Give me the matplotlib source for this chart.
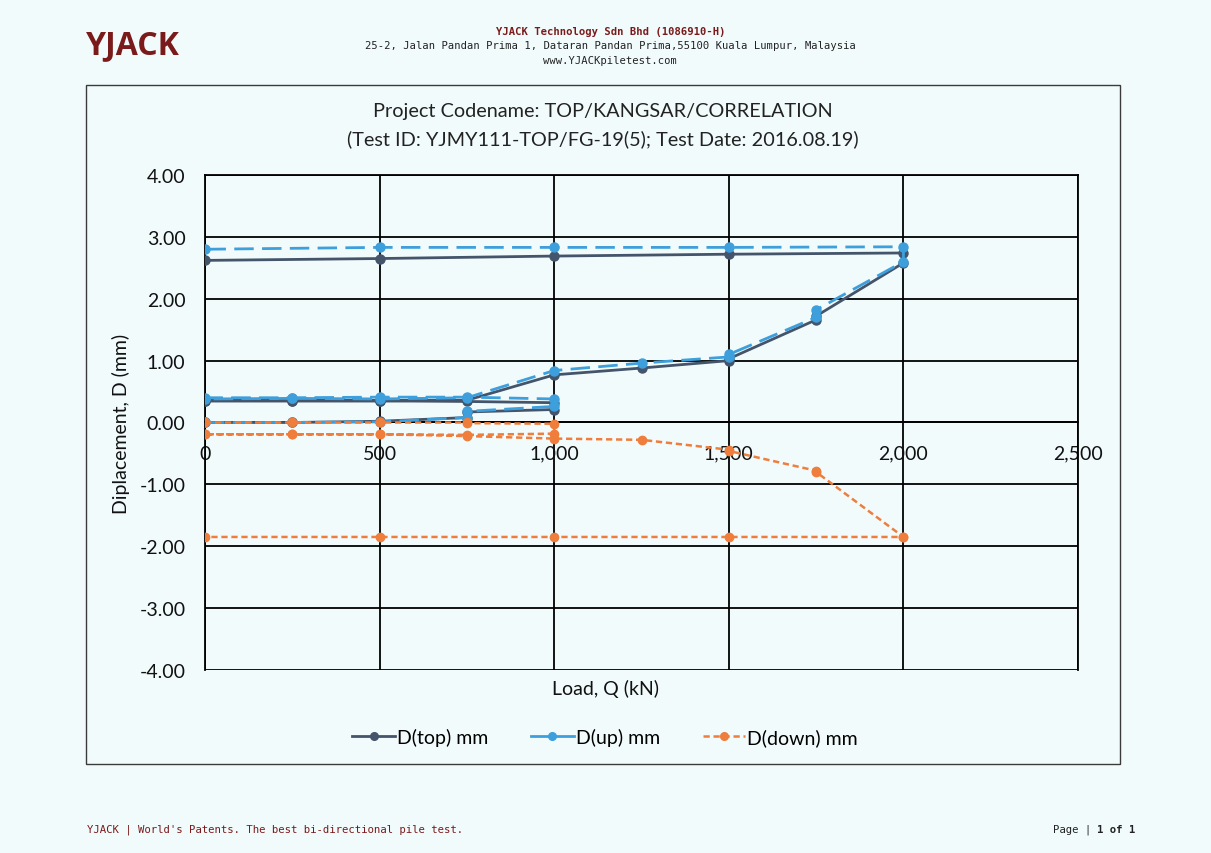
import matplotlib.pyplot as plt
from matplotlib.lines import Line2D
from matplotlib.patches import Rectangle
from matplotlib.ticker import FuncFormatter

plt.rcParams['font.family'] = ['Lato', 'DejaVu Sans']

# load steps, first cycle (to 1000 kN) and second cycle (to 2000 kN)
load_c1 = [0, 250, 500, 750, 750, 1000, 1000, 750, 500, 250, 0]
load_c2 = [0, 250, 500, 750, 1000, 1250, 1500, 1500, 1750, 1750, 2000, 2000, 1500, 1000, 500, 0]

# displacements (mm)
top_c1 = [0.00, 0.00, 0.02, 0.08, 0.17, 0.21, 0.32, 0.34, 0.35, 0.35, 0.35]
top_c2 = [0.35, 0.35, 0.35, 0.36, 0.77, 0.88, 1.00, 1.03, 1.66, 1.72, 2.58, 2.74, 2.72, 2.69, 2.65, 2.62]

up_c1 = [0.00, 0.00, 0.01, 0.08, 0.18, 0.26, 0.38, 0.41, 0.41, 0.40, 0.40]
up_c2 = [0.38, 0.39, 0.38, 0.40, 0.84, 0.96, 1.06, 1.10, 1.70, 1.82, 2.60, 2.84, 2.83, 2.83, 2.83, 2.80]

down_c1 = [0.00, 0.00, 0.00, 0.00, -0.01, -0.02, -0.18, -0.20, -0.19, -0.19, -0.19]
down_c2 = [-0.19, -0.19, -0.19, -0.22, -0.26, -0.28, -0.44, -0.46, -0.78, -0.80, -1.85, -1.85, -1.85, -1.85, -1.85, -1.85]

x_ticks = [0, 500, 1000, 1500, 2000, 2500]
y_ticks = [-4, -3, -2, -1, 0, 1, 2, 3, 4]

load = load_c1 + load_c2
d_top = top_c1 + top_c2
d_up = up_c1 + up_c2
d_down = down_c1 + down_c2

page_bg = '#f2fbfc'
dark_red = '#7a1a1a'
c_top = '#44546a'
c_up = '#3d9fdc'
c_down = '#ef7d3c'

fig = plt.figure(figsize=(12.11, 8.54), dpi=100, facecolor=page_bg)

# letterhead
fig.text(0.071, 0.946, 'YJACK', fontsize=23, fontweight='bold', color=dark_red,
         family=['Open Sans', 'DejaVu Sans'], va='center', ha='left')
fig.text(0.504, 0.963, 'YJACK Technology Sdn Bhd (1086910-H)', fontsize=7.6,
         fontweight='bold', color=dark_red, family='DejaVu Sans Mono', ha='center', va='center')
fig.text(0.504, 0.946, '25-2, Jalan Pandan Prima 1, Dataran Pandan Prima,55100 Kuala Lumpur, Malaysia',
         fontsize=7.6, color='#222222', family='DejaVu Sans Mono', ha='center', va='center')
fig.text(0.504, 0.928, 'www.YJACKpiletest.com', fontsize=7.6, color='#222222',
         family='DejaVu Sans Mono', ha='center', va='center')

# footer
fig.text(0.072, 0.028, "YJACK | World's Patents. The best bi-directional pile test.",
         fontsize=7.7, color=dark_red, family='DejaVu Sans Mono', ha='left', va='center')
fig.text(0.9015, 0.028, 'Page |', fontsize=7.7, color='#222222',
         family='DejaVu Sans Mono', ha='right', va='center')
fig.text(0.9055, 0.028, '1 of 1', fontsize=7.7, fontweight='bold', color='#222222',
         family='DejaVu Sans Mono', ha='left', va='center')

# chart frame
fig.patches.append(Rectangle((0.071, 0.1042), 0.8538, 0.7951, transform=fig.transFigure,
                             fill=False, edgecolor='#3a3a3a', linewidth=1.0))

ax = fig.add_axes([0.1693, 0.2143, 0.7209, 0.5796])
ax.set_facecolor(page_bg)

ax.plot(load, d_top, color=c_top, lw=2.0, marker='o', ms=6.5, zorder=3)
ax.plot(load, d_up, color=c_up, lw=2.0, dashes=(7, 3), marker='o', ms=6.5, zorder=4)
ax.plot(load, d_down, color=c_down, lw=1.8, dashes=(2.5, 1.5), marker='o', ms=6, zorder=5)

ax.set_xlim(0, 2500)
ax.set_ylim(-4, 4)
ax.set_xticks(x_ticks)
ax.set_yticks(y_ticks)
ax.xaxis.set_major_formatter(FuncFormatter(lambda v, p: f'{v:,.0f}'))
ax.yaxis.set_major_formatter(FuncFormatter(lambda v, p: f'{v:.2f}'))
ax.tick_params(length=0, labelsize=14, colors='#111111')
ax.tick_params(axis='y', pad=14)
ax.tick_params(axis='x', pad=16)

ax.grid(True, color='black', lw=1.3)
ax.set_axisbelow(True)
for side in ['top', 'right', 'left']:
    ax.spines[side].set_color('black')
    ax.spines[side].set_linewidth(1.3)
ax.spines['bottom'].set_position(('data', 0))
ax.spines['bottom'].set_color('black')
ax.spines['bottom'].set_linewidth(1.3)
ax.spines['bottom'].set_zorder(1)

fig.text(0.4975, 0.870, 'Project Codename: TOP/KANGSAR/CORRELATION',
         fontsize=14.3, color='#222222', ha='center', va='center')
fig.text(0.4975, 0.837, '(Test ID: YJMY111-TOP/FG-19(5); Test Date: 2016.08.19)',
         fontsize=14.3, color='#222222', ha='center', va='center')
ax.set_ylabel('Diplacement, D (mm)', fontsize=14, color='#111111', labelpad=7)
fig.text(0.4996, 0.193, 'Load, Q (kN)', fontsize=14, color='#111111', ha='center', va='center')

handles = [
    Line2D([], [], color=c_top, lw=2.0, marker='o', ms=5.5),
    Line2D([], [], color=c_up, lw=2.0, marker='o', ms=5.5),
    Line2D([], [], color=c_down, lw=1.8, dashes=(2.5, 1.5), marker='o', ms=5.5),
]
fig.legend(handles, ['D(top) mm', 'D(up) mm', 'D(down) mm'], loc='center',
           bbox_to_anchor=(0.4996, 0.136), ncol=3, frameon=False, fontsize=14,
           handlelength=2.2, handletextpad=0.1, columnspacing=2.2)

fig.savefig('out.png', dpi=100, facecolor=page_bg)
